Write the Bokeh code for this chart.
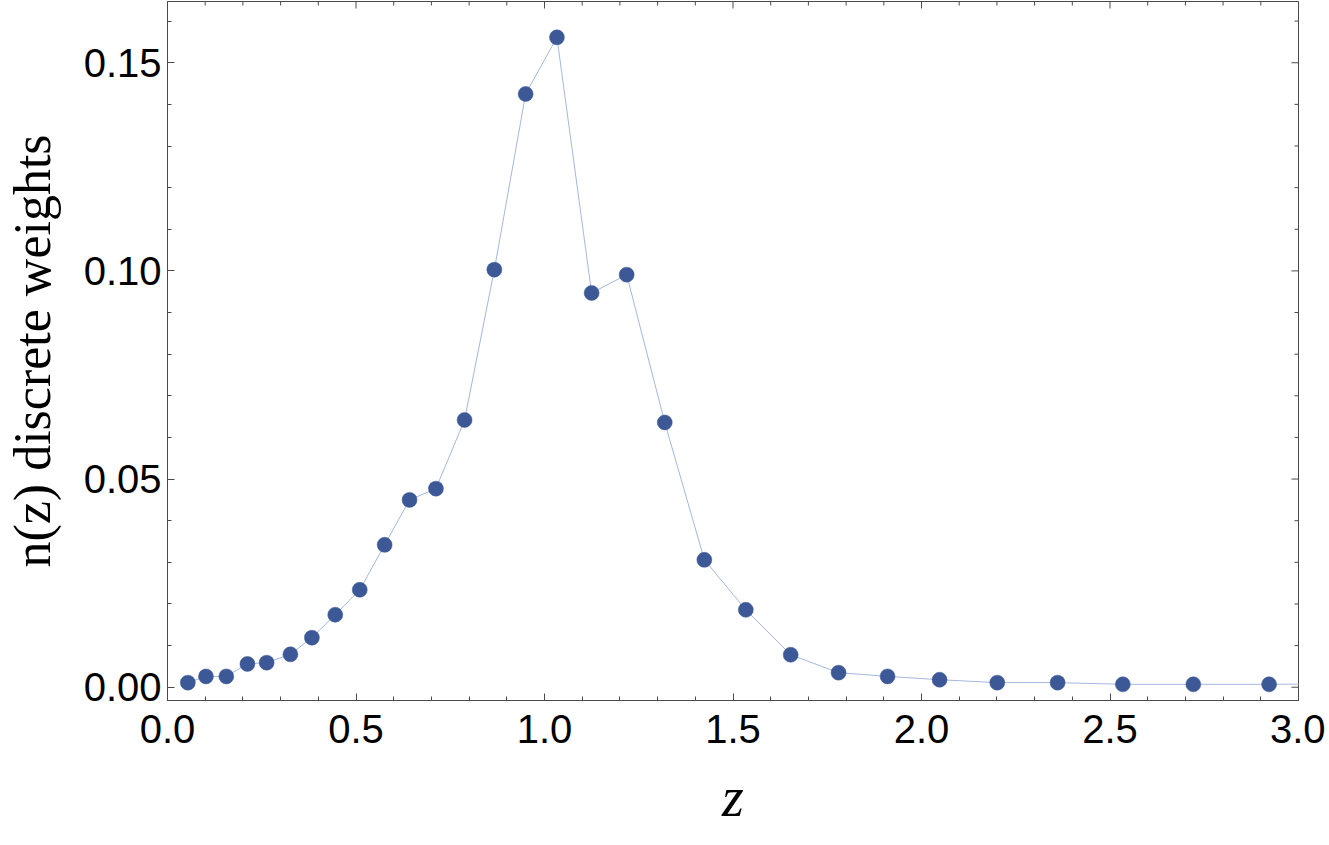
import math
from bokeh.plotting import figure
from bokeh.models import Range1d, FixedTicker, NumeralTickFormatter
from bokeh.embed import file_html
from bokeh.resources import INLINE

# data
z_vals = [0.054, 0.102, 0.156, 0.212, 0.263, 0.326, 0.383, 0.445, 0.510, 0.576,
          0.642, 0.712, 0.788, 0.867, 0.950, 1.033, 1.125, 1.218, 1.319, 1.424,
          1.534, 1.653, 1.780, 1.910, 2.048, 2.201, 2.361, 2.534, 2.721, 2.922, 3.140]
n_vals = [0.0011, 0.0026, 0.0026, 0.0056, 0.0059, 0.0079, 0.0119, 0.0174, 0.0234, 0.0342,
          0.0450, 0.0477, 0.0642, 0.1003, 0.1425, 0.1561, 0.0947, 0.0991, 0.0636, 0.0306,
          0.0186, 0.0078, 0.0035, 0.0026, 0.0018, 0.0011, 0.0011, 0.0007, 0.0007, 0.0007, 0.0008]

x_major = [0.0, 0.5, 1.0, 1.5, 2.0, 2.5, 3.0]
x_minor = [round(i * 0.1, 2) for i in range(0, 31)]
y_major = [0.0, 0.05, 0.10, 0.15]
y_minor = [round(i * 0.01, 3) for i in range(0, 17)]

x_label = "z"
y_label = "n(z) discrete weights"

FRAME = "#4a4a4a"
TICK_FONT = "Liberation Sans"
LABEL_FONT = "Liberation Serif"

X0, X1 = 0.0, 3.0
Y0, Y1 = -0.00319, 0.16471

p = figure(width=1325, height=840, output_backend="svg", toolbar_location=None,
           x_range=Range1d(X0, X1), y_range=Range1d(Y0, Y1),
           min_border_left=164, min_border_right=27, min_border_top=1, min_border_bottom=140)
p.xgrid.visible = False
p.ygrid.visible = False
p.outline_line_color = FRAME
p.outline_line_width = 1
p.background_fill_color = "white"
p.border_fill_color = "white"

p.line(z_vals, n_vals, line_color="#a3b8de", line_width=1)
p.scatter(z_vals, n_vals, size=15, fill_color="#3c5896", line_color="#3c5896", line_width=0.5)

# inward frame ticks on the top and right edges (half of each dash is clipped by the frame)
x_minor_only = [t for t in x_minor if all(abs(t - m) > 1e-9 for m in x_major)]
y_minor_only = [t for t in y_minor if all(abs(t - m) > 1e-9 for m in y_major)]
p.scatter(x_major, [Y1] * len(x_major), marker="dash", size=14, angle=math.pi / 2,
          line_color=FRAME, line_width=1)
p.scatter(x_minor_only, [Y1] * len(x_minor_only), marker="dash", size=8, angle=math.pi / 2,
          line_color=FRAME, line_width=1)
p.scatter([X1] * len(y_major), y_major, marker="dash", size=14,
          line_color=FRAME, line_width=1)
p.scatter([X1] * len(y_minor_only), y_minor_only, marker="dash", size=8,
          line_color=FRAME, line_width=1)

def style(ax, ticks, minors, fmt, standoff):
    ax.ticker = FixedTicker(ticks=ticks, minor_ticks=minors)
    ax.formatter = NumeralTickFormatter(format=fmt)
    ax.axis_line_color = FRAME
    ax.major_tick_line_color = FRAME
    ax.minor_tick_line_color = FRAME
    ax.major_tick_in = 7
    ax.major_tick_out = 0
    ax.minor_tick_in = 4
    ax.minor_tick_out = 0
    ax.major_label_text_font = TICK_FONT
    ax.major_label_text_color = "black"
    ax.major_label_text_font_size = "40px"
    ax.major_label_standoff = standoff

xa = p.xaxis[0]
ya = p.yaxis[0]
style(xa, x_major, x_minor, "0.0", 14)
style(ya, y_major, y_minor, "0.00", 6)

xa.axis_label = x_label
xa.axis_label_text_font = LABEL_FONT
xa.axis_label_text_font_style = "italic"
xa.axis_label_text_font_size = "56px"
xa.axis_label_text_color = "black"
xa.axis_label_standoff = 20

ya.axis_label = y_label
ya.axis_label_text_font = LABEL_FONT
ya.axis_label_text_font_style = "normal"
ya.axis_label_text_font_size = "52px"
ya.axis_label_text_color = "black"
ya.axis_label_standoff = 20

open("out.html", "w").write(file_html(p, INLINE))
